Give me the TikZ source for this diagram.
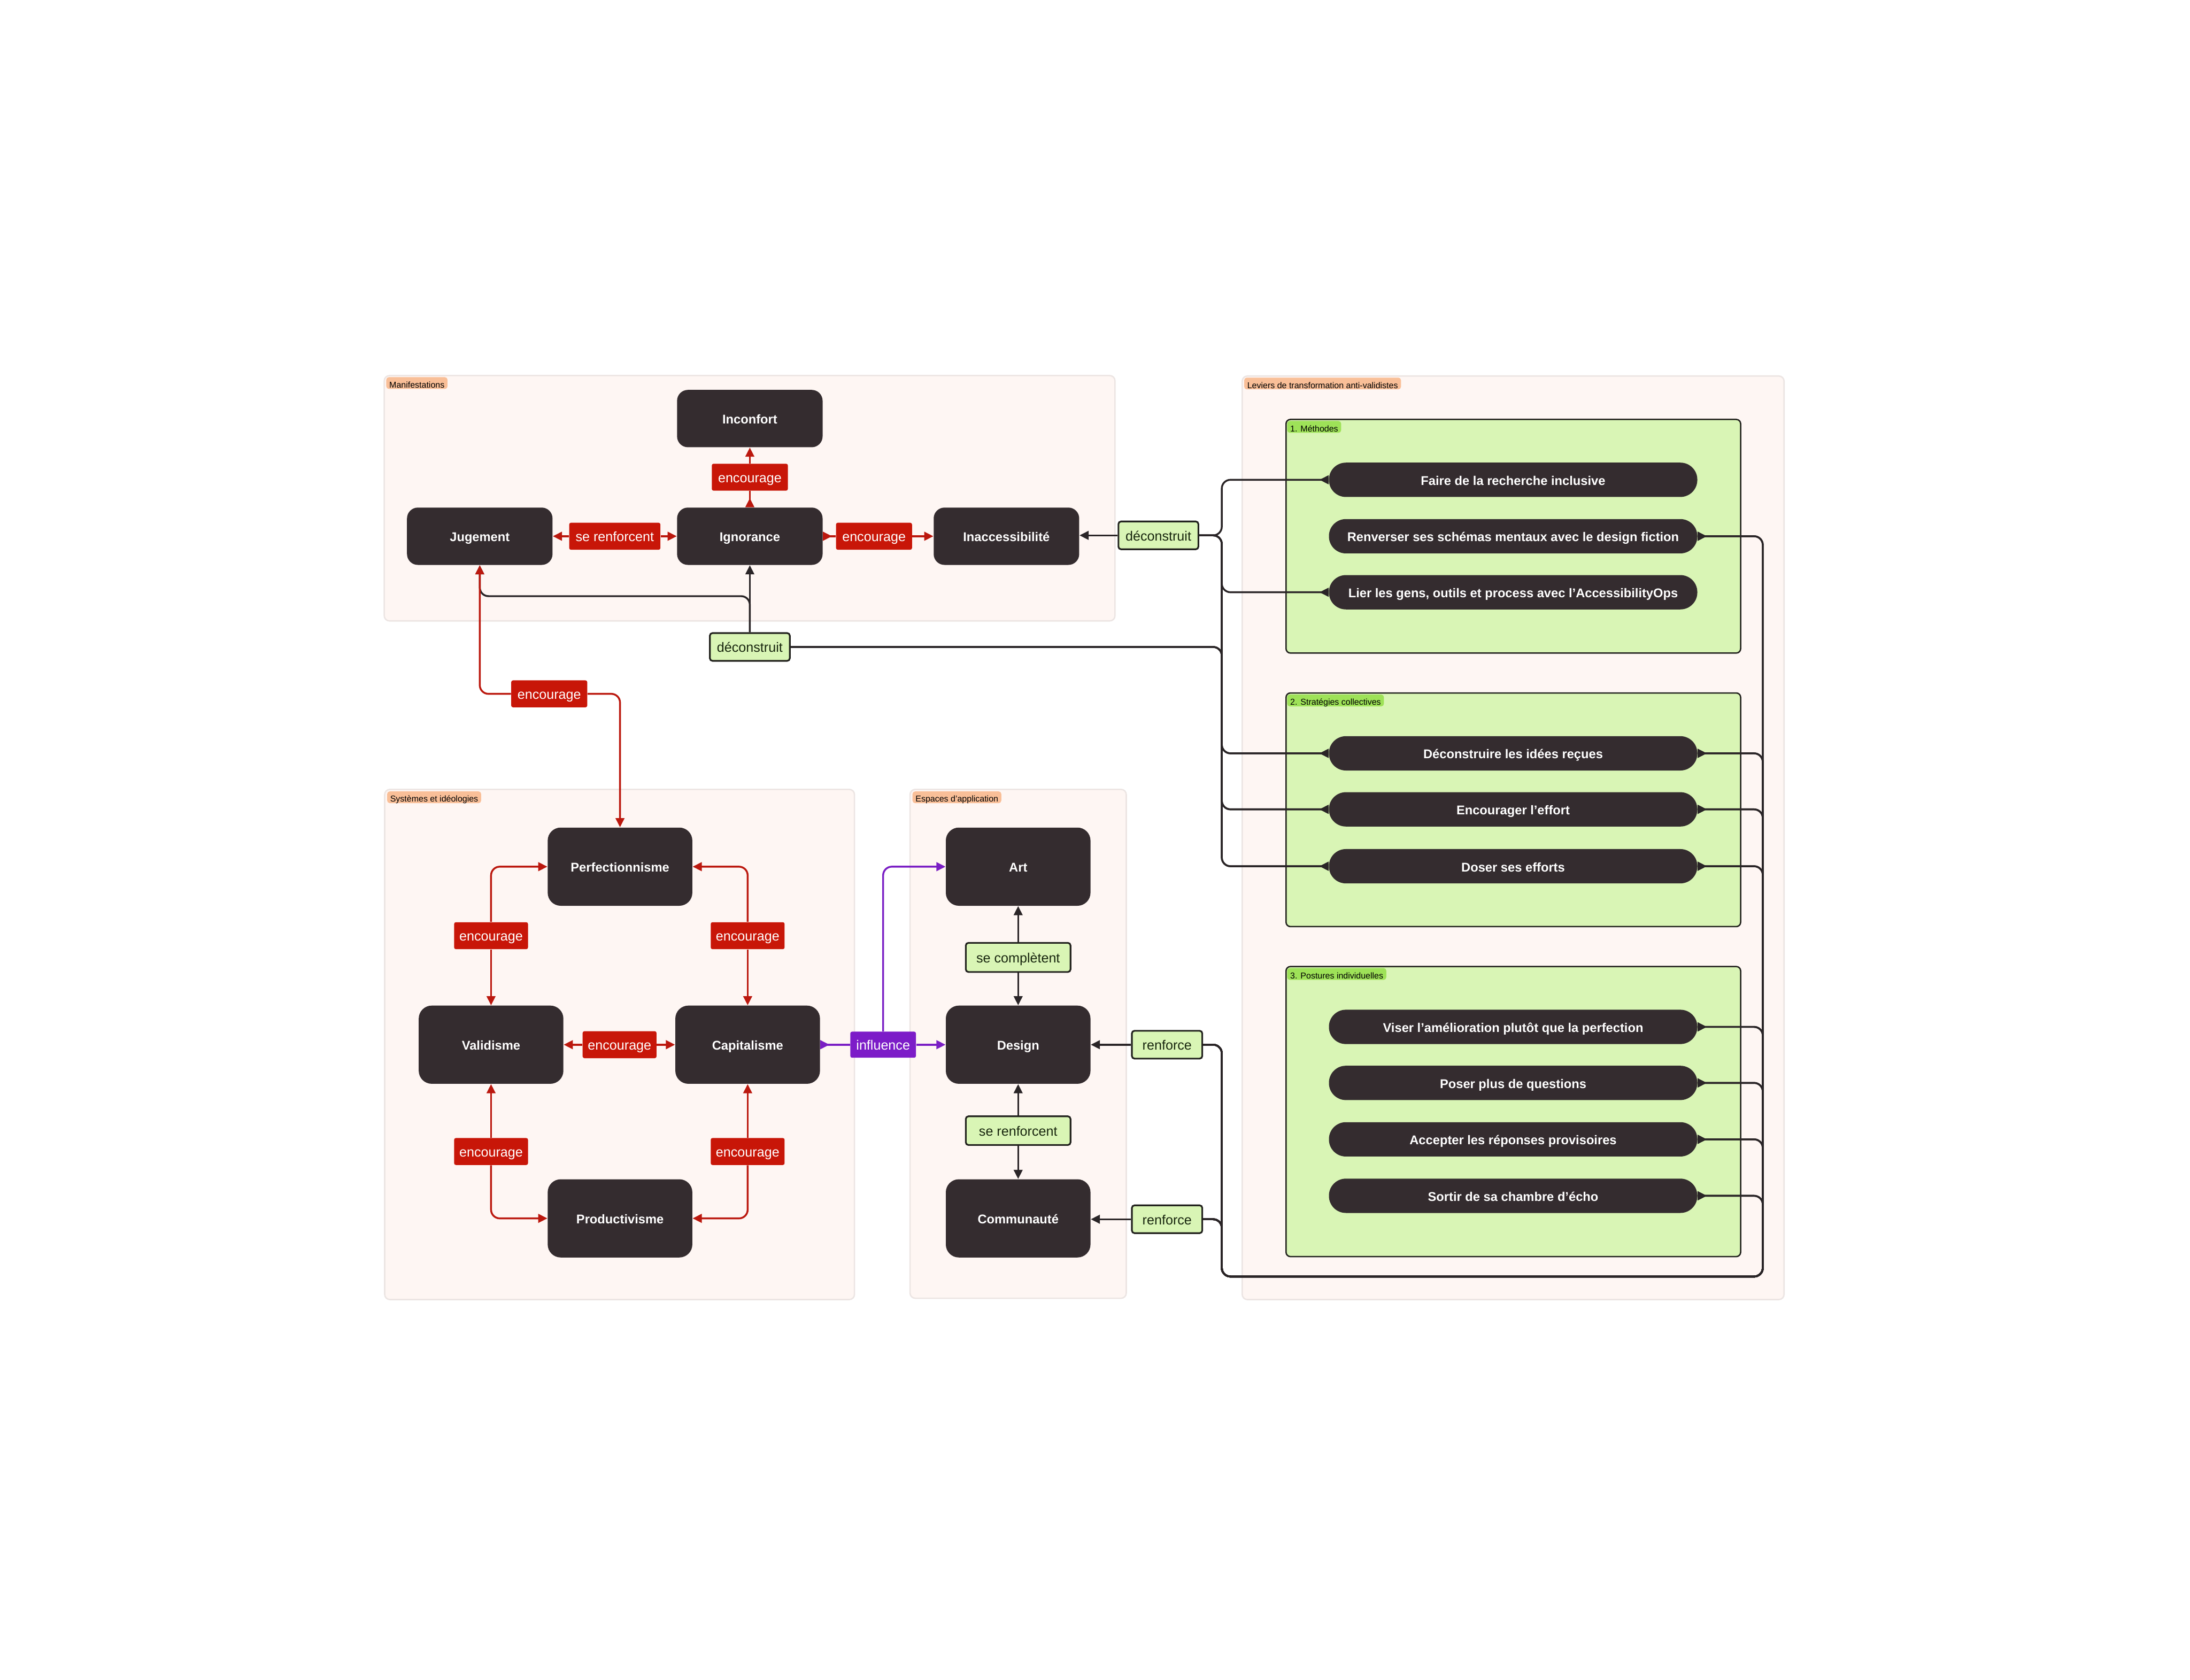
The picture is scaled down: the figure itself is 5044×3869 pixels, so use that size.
\documentclass[tikz,border=0pt]{standalone}
\usepackage{fontspec}
\setmainfont{Liberation Sans}
\usetikzlibrary{arrows.meta,calc}
\definecolor{dk}{RGB}{52,44,47}
\definecolor{panelbg}{RGB}{254,246,243}
\definecolor{panelbd}{RGB}{236,229,227}
\definecolor{tagor}{RGB}{249,191,152}
\definecolor{taggr}{RGB}{158,226,88}
\definecolor{grfill}{RGB}{217,245,181}
\definecolor{grbd}{RGB}{34,34,30}
\definecolor{rfill}{RGB}{200,22,8}
\definecolor{rline}{RGB}{187,24,14}
\definecolor{bline}{RGB}{42,37,39}
\definecolor{pfill}{RGB}{124,28,200}
\definecolor{pline}{RGB}{122,30,196}
\definecolor{gtext}{RGB}{24,38,14}
\tikzset{
  Ahead/.tip={Triangle[length=0.21cm,width=0.2cm]},
  Atail/.tip={Triangle[reversed,length=0.21cm,width=0.2cm]},
  panelbox/.style={fill=panelbg, draw=panelbd, line width=0.9pt, rounded corners=0.12cm},
  grpbox/.style={fill=grfill, draw=grbd, line width=0.9pt, rounded corners=0.1cm},
  ctext/.style={text height=0.7em, text depth=0pt},
  tagM/.style={fill=tagor, rounded corners=0.06cm, text=black, font=\fontsize{5.6}{6.5}\selectfont,
    text height=0.62em, text depth=0pt,
    inner xsep=0.07cm, inner ysep=0pt, minimum height=0.27cm, anchor=north west},
  tagG/.style={tagM, fill=taggr},
  dbox/.style={ctext, fill=dk, text=white, font=\fontsize{8.3}{10}\selectfont\bfseries, rounded corners=0.25cm,
    minimum width=3.35cm, minimum height=1.32cm, inner sep=0pt},
  sbox/.style={dbox, minimum width=3.33cm, minimum height=1.8cm, rounded corners=0.3cm},
  pillbox/.style={dbox, minimum width=8.48cm, minimum height=0.79cm, rounded corners=0.39cm},
  rlab/.style={ctext, fill=rfill, text=white, font=\fontsize{8.8}{10}\selectfont, rounded corners=0.04cm,
    minimum height=0.62cm, inner xsep=0.1cm, inner ysep=0pt},
  glab/.style={ctext, fill=grfill, draw=grbd, line width=1.1pt, text=gtext, font=\fontsize{8.8}{10}\selectfont,
    rounded corners=0.06cm, minimum height=0.64cm, inner xsep=0.1cm, inner ysep=0pt},
  plab/.style={rlab, fill=pfill},
  cRed/.style={draw=rline, line width=1.2pt, rounded corners=0.2cm},
  cBlk/.style={draw=bline, line width=1.2pt, rounded corners=0.2cm},
  cPur/.style={draw=pline, line width=1.2pt, rounded corners=0.2cm},
}
\begin{document}
\begin{tikzpicture}[x=0.01cm,y=-0.01cm]
\useasboundingbox (0,0) rectangle (5044,3869);
\fill[white] (0,0) rectangle (5044,3869);

% panels
\draw[panelbox] (885,865) rectangle (2568,1430);
\draw[panelbox] (2861,866) rectangle (4109,2993);
\draw[panelbox] (886,1818) rectangle (1968,2993);
\draw[panelbox] (2096,1818) rectangle (2594,2990);
\node[tagM] (tM) at (889,868) {Manifestations};
\node[tagM] (tL) at (2865,869) {Leviers de transformation anti-validistes};
\node[tagM] (tS) at (891,1822) {Systèmes et idéologies};
\node[tagM] (tE) at (2101,1822) {Espaces d’application};

% groups
\draw[grpbox] (2962,966) rectangle (4009,1504);
\draw[grpbox] (2962,1596) rectangle (4009,2134);
\draw[grpbox] (2962,2226) rectangle (4009,2894);
\node[tagG] (g1) at (2964,969) {1. Méthodes};
\node[tagG] (g2) at (2964,1599) {2. Stratégies collectives};
\node[tagG] (g3) at (2964,2229) {3. Postures individuelles};

% manifestations
\node[dbox] (inc) at (1727,964) {Inconfort};
\node[dbox] (jug) at (1105,1235) {Jugement};
\node[dbox] (ign) at (1727,1235) {Ignorance};
\node[dbox] (ina) at (2318,1235) {Inaccessibilité};

% systemes
\node[sbox] (perf) at (1428,1996) {Perfectionnisme};
\node[sbox] (vali) at (1131,2406) {Validisme};
\node[sbox] (capi) at (1722,2406) {Capitalisme};
\node[sbox] (prod) at (1428,2806) {Productivisme};

% espaces
\node[sbox] (art) at (2345,1996) {Art};
\node[sbox] (des) at (2345,2406) {Design};
\node[sbox] (com) at (2345,2806) {Communauté};

% pills
\node[pillbox] (p1) at (3485,1105) {Faire de la recherche inclusive};
\node[pillbox] (p2) at (3485,1235) {Renverser ses schémas mentaux avec le design fiction};
\node[pillbox] (p3) at (3485,1364) {Lier les gens, outils et process avec l’AccessibilityOps};
\node[pillbox] (p4) at (3485,1735) {Déconstruire les idées reçues};
\node[pillbox] (p5) at (3485,1864) {Encourager l’effort};
\node[pillbox] (p6) at (3485,1995) {Doser ses efforts};
\node[pillbox] (p7) at (3485,2365) {Viser l’amélioration plutôt que la perfection};
\node[pillbox] (p8) at (3485,2494) {Poser plus de questions};
\node[pillbox] (p9) at (3485,2624) {Accepter les réponses provisoires};
\node[pillbox] (p10) at (3485,2754) {Sortir de sa chambre d’écho};

% labels
\node[rlab, minimum width=1.75cm] (e1) at (1727,1099) {encourage};
\node[rlab, minimum width=2.1cm] (sr1) at (1416,1235) {se renforcent};
\node[rlab, minimum width=1.75cm] (e2) at (2013,1235) {encourage};
\node[glab, minimum width=1.84cm] (dR) at (2668,1233) {déconstruit};
\node[glab, minimum width=1.84cm] (dB) at (1727,1490) {déconstruit};
\node[rlab, minimum width=1.75cm] (e3) at (1265,1598) {encourage};
\node[rlab, minimum width=1.7cm] (e4) at (1131,2155) {encourage};
\node[rlab, minimum width=1.7cm] (e5) at (1722,2155) {encourage};
\node[rlab, minimum width=1.7cm] (e6) at (1427,2406) {encourage};
\node[rlab, minimum width=1.7cm] (e7) at (1131,2652) {encourage};
\node[rlab, minimum width=1.7cm] (e8) at (1722,2652) {encourage};
\node[glab, minimum width=2.41cm, minimum height=0.67cm] (sc) at (2345,2205) {se complètent};
\node[glab, minimum width=2.41cm, minimum height=0.66cm] (sr2) at (2345,2604) {se renforcent};
\node[plab, minimum width=1.51cm, minimum height=0.6cm] (inf) at (2034,2406) {influence};
\node[glab, minimum width=1.62cm] (rf1) at (2688,2406) {renforce};
\node[glab, minimum width=1.62cm] (rf2) at (2688,2808) {renforce};

\coordinate (xl) at (2814,0);
\coordinate (xr) at (4060,0);
\coordinate (yb) at (0,2940);
\coordinate (yj) at (0,1373);

% black connectors
\draw[cBlk,-{Ahead}] (dR.west) -- (dR.west -| ina.east);
\foreach \p in {p1,p3,p4,p5,p6}
  \draw[cBlk,{Atail}-] (\p.west) -- (\p.west -| xl) |- (dR.east);
\foreach \p in {p4,p5,p6}
  \draw[cBlk,-{Atail}] (dB.east) -- (dB.east -| xl) |- (\p.west);
\draw[cBlk,-{Ahead}] (dB.north) -- (ign.south);
\draw[cBlk,-{Ahead}] (dB.north) -- (dB.north |- yj) -| (jug.south);
\foreach \p in {p2,p4,p5,p6,p7,p8,p9,p10}{
  \draw[cBlk,{Atail}-] (\p.east) -- (\p.east -| xr) -- (xr |- yb) -- (yb -| xl) |- (rf1.east);
  \draw[cBlk,{Atail}-] (\p.east) -- (\p.east -| xr) -- (xr |- yb) -- (yb -| xl) |- (rf2.east);
}
\draw[cBlk,-{Ahead}] (rf1.west) -- (rf1.west -| des.east);
\draw[cBlk,-{Ahead}] (rf2.west) -- (rf2.west -| com.east);
\draw[cBlk,{Ahead}-] (art.south) -- (sc.north);
\draw[cBlk,-{Ahead}] (sc.south) -- (des.north);
\draw[cBlk,{Ahead}-] (des.south) -- (sr2.north);
\draw[cBlk,-{Ahead}] (sr2.south) -- (com.north);

% red connectors
\draw[cRed,{Atail}-] (ign.north) -- (e1.south);
\draw[cRed,-{Ahead}] (e1.north) -- (inc.south);
\draw[cRed,{Ahead}-] (jug.east) -- (sr1.west);
\draw[cRed,-{Ahead}] (sr1.east) -- (ign.west);
\draw[cRed,{Atail}-] (ign.east) -- (e2.west);
\draw[cRed,-{Ahead}] (e2.east) -- (ina.west);
\draw[cRed,{Ahead}-] (jug.south) |- (e3.west);
\draw[cRed,-{Ahead}] (e3.east) -| (perf.north);
\draw[cRed,{Ahead}-] (vali.north) -- (e4.south);
\draw[cRed,-{Ahead}] (e4.north) |- (perf.west);
\draw[cRed,{Ahead}-] (capi.north) -- (e5.south);
\draw[cRed,-{Ahead}] (e5.north) |- (perf.east);
\draw[cRed,{Ahead}-] (vali.east) -- (e6.west);
\draw[cRed,-{Ahead}] (e6.east) -- (capi.west);
\draw[cRed,{Ahead}-] (vali.south) -- (e7.north);
\draw[cRed,-{Ahead}] (e7.south) |- (prod.west);
\draw[cRed,{Ahead}-] (capi.south) -- (e8.north);
\draw[cRed,-{Ahead}] (e8.south) |- (prod.east);

% purple connectors
\draw[cPur,{Atail}-] (capi.east) -- (inf.west);
\draw[cPur,-{Ahead}] (inf.east) -- (des.west);
\draw[cPur,-{Ahead}] (inf.north) |- (art.west);
\end{tikzpicture}
\end{document}
